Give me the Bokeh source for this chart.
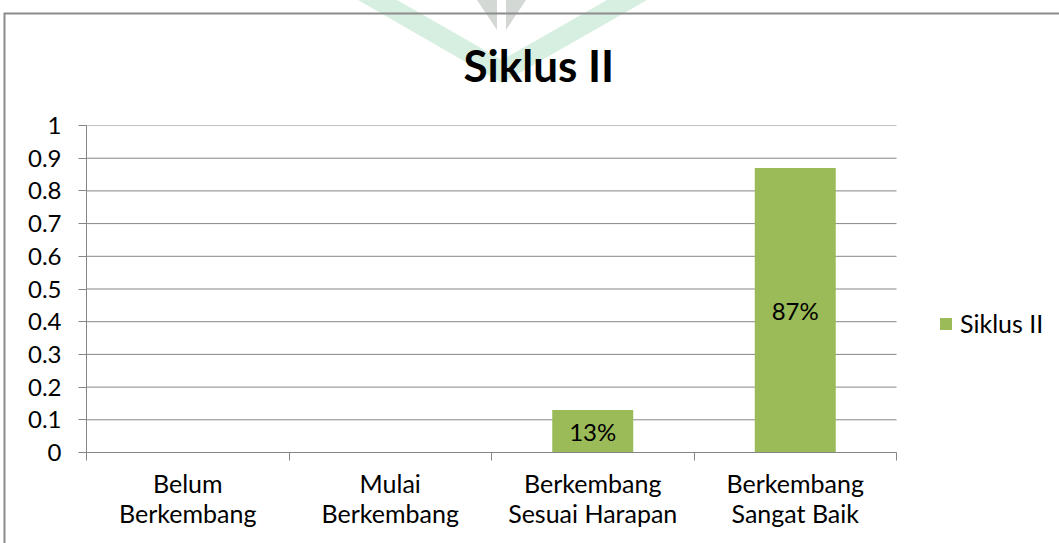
from urllib.parse import quote
from bokeh.plotting import figure
from bokeh.models import (Range1d, FixedTicker, NumeralTickFormatter, ColumnDataSource,
                          LabelSet, Legend, LegendItem, Title)
from bokeh.core.properties import value
from bokeh.embed import file_html
from bokeh.resources import INLINE

# ---- data ----
categories = ["Belum\nBerkembang", "Mulai\nBerkembang",
              "Berkembang\nSesuai Harapan", "Berkembang\nSangat Baik"]
values = [0.0, 0.0, 0.13, 0.87]
series_name = "Siklus II"
title_text = "Siklus II"
y_ticks = [0, 0.1, 0.2, 0.3, 0.4, 0.5, 0.6, 0.7, 0.8, 0.9, 1]

FONT = "Lato"
GREEN = "#9BBB59"
GREY = "#868686"

W, H = 1059, 543
LEFT, PLOT_RIGHT = 86, 896          # pixel extent of the category area
n = len(categories)
centers = [i + 0.5 for i in range(n)]
boundaries = list(range(n + 1))
# frame runs to the right edge so the legend can sit inside it
x_end = n * (W - LEFT) / (PLOT_RIGHT - LEFT)

p = figure(width=W, height=H, output_backend="svg", toolbar_location=None,
           x_range=Range1d(0, x_end), y_range=Range1d(0, 1),
           min_border_left=LEFT, min_border_right=0,
           min_border_top=125, min_border_bottom=91)
p.outline_line_color = None
p.background_fill_alpha = 0
p.border_fill_alpha = 0

# ---- decoration: faint watermark and chart-area border drawn as page background ----
deco = (f"<svg xmlns='http://www.w3.org/2000/svg' width='{W}' height='{H}'>"
        "<rect width='100%' height='100%' fill='white'/>"
        "<polygon points='358,0 397,0 502,60 607,0 647,0 502,83' fill='#d7efe0'/>"
        "<polygon points='477,0 497,0 497,30' fill='#d3d8d5'/>"
        "<polygon points='506,0 526,0 506,30' fill='#d3d8d5'/>"
        f"<path d='M4.5,{H} V13.5 H{W}' fill='none' stroke='#8c8c8c' stroke-width='2'/>"
        "</svg>")
p.styles = {"background-image": f"url(\"data:image/svg+xml;charset=utf-8,{quote(deco)}\")",
            "background-repeat": "no-repeat"}

# ---- horizontal gridlines (only across the category area) ----
p.xgrid.visible = False
p.ygrid.visible = False
p.segment(x0=[0] * len(y_ticks), x1=[n] * len(y_ticks), y0=y_ticks, y1=y_ticks,
          line_color=GREY, line_width=1, level="underlay")

# ---- bars ----
src = ColumnDataSource(dict(x=centers, top=values))
r = p.vbar(x="x", top="top", width=0.4, source=src, fill_color=GREEN, line_color=None)

lab = [(c, v) for c, v in zip(centers, values) if v > 0]
lab_src = ColumnDataSource(dict(x=[c for c, v in lab], y=[v / 2 for c, v in lab],
                                text=[f"{round(v * 100)}%" for c, v in lab]))
p.add_layout(LabelSet(x="x", y="y", text="text", source=lab_src,
                      text_align="center", text_baseline="middle",
                      text_font=value(FONT), text_font_size=value("24px"), text_color="black"))

# ---- axes ----
xt = FixedTicker(ticks=centers, minor_ticks=boundaries)
p.xaxis.ticker = xt
p.xaxis.bounds = (0, n)
p.xaxis.major_label_overrides = {c: cat for c, cat in zip(centers, categories)}
p.xaxis.major_tick_line_color = None
p.xaxis.major_tick_out = 0
p.xaxis.major_tick_in = 0
p.xaxis.minor_tick_out = 8
p.xaxis.minor_tick_in = 0
p.xaxis.minor_tick_line_color = GREY
p.xaxis.axis_line_color = GREY
p.xaxis.major_label_standoff = 7
p.xaxis.major_label_text_font = FONT
p.xaxis.major_label_text_font_size = "25px"
p.xaxis.major_label_text_color = "black"
p.xaxis.major_label_text_line_height = 1.0

yt = FixedTicker(ticks=y_ticks, minor_ticks=[])
p.yaxis.ticker = yt
p.yaxis.formatter = NumeralTickFormatter(format="0.[0]")
p.yaxis.major_tick_out = 8
p.yaxis.major_tick_in = 0
p.yaxis.minor_tick_out = 0
p.yaxis.minor_tick_in = 0
p.yaxis.major_tick_line_color = GREY
p.yaxis.axis_line_color = GREY
p.yaxis.major_label_standoff = 17
p.yaxis.major_label_text_font = FONT
p.yaxis.major_label_text_font_size = "24px"
p.yaxis.major_label_text_color = "black"

# ---- title ----
p.title = Title(text=title_text, align="left", offset=377, standoff=70,
                text_font=FONT, text_font_style="bold", text_font_size="44px",
                text_color="black")

# ---- legend (inside the frame, right of the category area) ----
legend = Legend(items=[LegendItem(label=series_name, renderers=[r])],
                location=(852, 114), border_line_color=None, background_fill_alpha=0,
                padding=0, margin=0, glyph_width=15, glyph_height=15, label_standoff=7,
                label_text_font=FONT, label_text_font_size="25px", label_text_color="black",
                spacing=0)
p.add_layout(legend)

open("out.html", "w").write(file_html(p, INLINE))
